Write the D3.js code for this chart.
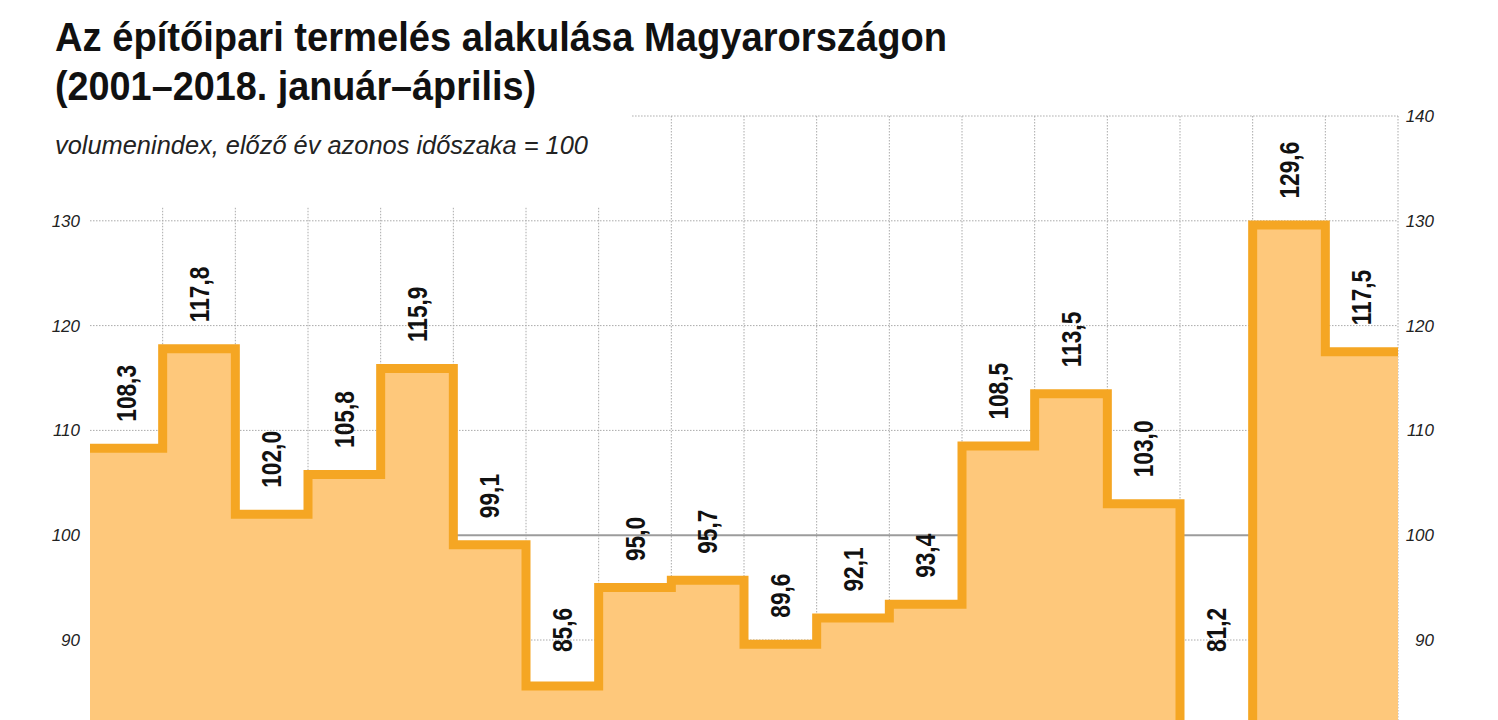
<!DOCTYPE html>
<html><head><meta charset="utf-8">
<script src="https://cdn.jsdelivr.net/npm/d3@7"></script>
<style>
html,body{margin:0;padding:0;background:#fff;overflow:hidden}
svg{display:block}
</style></head><body>
<script>
// ---- data ----
const years = [2001,2002,2003,2004,2005,2006,2007,2008,2009,2010,2011,2012,2013,2014,2015,2016,2017,2018];
const values = [108.3,117.8,102.0,105.8,115.9,99.1,85.6,95.0,95.7,89.6,92.1,93.4,108.5,113.5,103.0,81.2,129.6,117.5];
const leftTicks = [90,100,110,120,130];
const rightTicks = [90,100,110,120,130,140];
const gridTicks = [90,110,120,130,140];
const baseValue = 100;
const titleLines = ["Az építőipari termelés alakulása Magyarországon", "(2001–2018. január–április)"];
const subtitleText = "volumenindex, előző év azonos időszaka = 100";

// ---- layout ----
const W = 1498, H = 720;
const NARROW = "'Liberation Sans Narrow','Arial Narrow','Liberation Sans',Arial,sans-serif";
const REG = "'Liberation Sans',Arial,sans-serif";
const svg = d3.select("body").append("svg").attr("width", W).attr("height", H);

const x = d3.scaleLinear().domain([0, years.length]).range([90, 1398]);
const y = d3.scaleLinear().domain([90, 140]).range([640, 116]);
const fmt = d3.formatLocale({decimal: ",", thousands: " ", grouping: [3], currency: ["", ""]}).format(".1f");

// ---- titles ----
const tl = svg.append("g");
const tLens = [892, 481];
titleLines.forEach((t, i) => {
  tl.append("text").attr("x", 55).attr("y", 51 + i * 49)
    .attr("font-family", NARROW).attr("font-weight", "bold").attr("font-size", 41)
    .attr("fill", "#111").attr("textLength", tLens[i]).attr("lengthAdjust", "spacingAndGlyphs")
    .text(t);
});
const sub = tl.append("text").attr("x", 55).attr("y", 154)
  .attr("font-family", NARROW).attr("font-style", "italic").attr("font-size", 25)
  .attr("fill", "#222").attr("textLength", 533).attr("lengthAdjust", "spacingAndGlyphs")
  .text(subtitleText);
const cutX = sub.node().getBBox().x + sub.node().getBBox().width + 44;

// ---- grid ----
const grid = svg.append("g").attr("stroke", "#aaa").attr("stroke-width", 1).attr("stroke-dasharray", "1.5,1.5");
grid.selectAll("line.h").data(gridTicks).join("line")
  .attr("x1", d => d === 140 ? cutX : x(0)).attr("x2", x(years.length))
  .attr("y1", d => y(d)).attr("y2", d => y(d));
grid.selectAll("line.v").data(d3.range(1, years.length + 1)).join("line")
  .attr("x1", d => x(d)).attr("x2", d => x(d))
  .attr("y1", d => x(d) > cutX ? y(140) : y(130) - 13).attr("y2", H + 20);

// base 100 line
svg.append("line").attr("x1", x(0)).attr("x2", x(years.length))
  .attr("y1", y(baseValue)).attr("y2", y(baseValue))
  .attr("stroke", "#9c9c9c").attr("stroke-width", 2);

// ---- step area ----
const pts = values.map((v, i) => ({i, v}));
pts.push({i: values.length, v: values[values.length - 1]});
const area = d3.area().curve(d3.curveStepAfter)
  .x(d => x(d.i)).y0(y(70)).y1(d => y(d.v));
const line = d3.line().curve(d3.curveStepAfter)
  .x(d => x(d.i)).y(d => y(d.v));
svg.append("path").datum(pts).attr("d", area).attr("fill", "#FEC87B");
svg.append("path").datum(pts).attr("d", line).attr("fill", "none")
  .attr("stroke", "#F5A623").attr("stroke-width", 9).attr("stroke-linejoin", "miter");

// ---- value labels ----
const labelMax = y(90) + 12;
const labels = svg.append("g").selectAll("text").data(values).join("text")
  .attr("transform", (v, i) => {
    const xc = (x(i) + x(i + 1)) / 2;
    const yb = Math.min(y(v) - 4.5 - 22, labelMax);
    return `translate(${xc},${yb}) rotate(-90)`;
  })
  .attr("dy", "0.36em").attr("text-anchor", "start")
  .attr("font-family", NARROW).attr("font-weight", "bold").attr("font-size", 27)
  .attr("fill", "#111").text(v => fmt(v));
labels.each(function() {
  const len = this.getComputedTextLength();
  d3.select(this).attr("textLength", len * 0.84).attr("lengthAdjust", "spacingAndGlyphs");
});

// ---- axes ----
const styleAxis = g => {
  g.select(".domain").remove();
  g.selectAll("line").remove();
  g.attr("font-size", null).attr("font-family", null);
  g.selectAll("text").attr("font-family", REG).attr("font-style", "italic")
    .attr("font-size", 17).attr("fill", "#222");
};
svg.append("g").attr("transform", `translate(${x(0)},0)`)
  .call(d3.axisLeft(y).tickValues(leftTicks).tickSize(0).tickPadding(10).tickFormat(d3.format("d")))
  .call(styleAxis);
const ra = svg.append("g").attr("transform", `translate(${x(years.length)},0)`)
  .call(d3.axisRight(y).tickValues(rightTicks).tickSize(0).tickFormat(d3.format("d")))
  .call(styleAxis);
ra.selectAll("text").attr("text-anchor", "end").attr("x", 36);
</script>
</body></html>
